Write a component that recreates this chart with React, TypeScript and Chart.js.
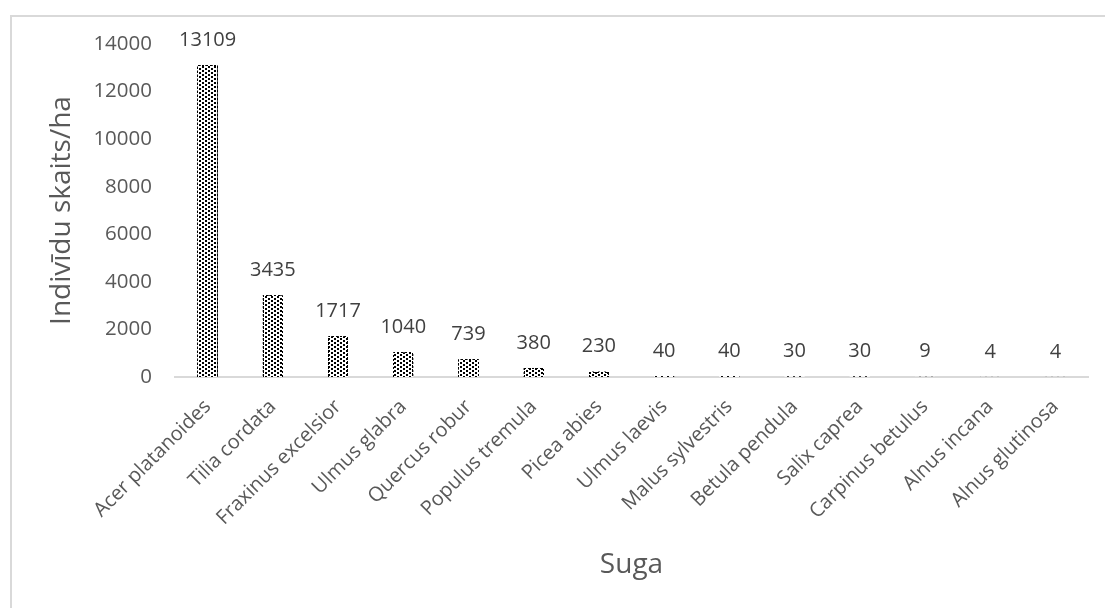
import React, { useEffect, useRef } from "react";
import { Chart, registerables } from "chart.js";

Chart.register(...registerables);

const categories = [
  "Acer platanoides",
  "Tilia cordata",
  "Fraxinus excelsior",
  "Ulmus glabra",
  "Quercus robur",
  "Populus tremula",
  "Picea abies",
  "Ulmus laevis",
  "Malus sylvestris",
  "Betula pendula",
  "Salix caprea",
  "Carpinus betulus",
  "Alnus incana",
  "Alnus glutinosa",
];
const values = [13109, 3435, 1717, 1040, 739, 380, 230, 40, 40, 30, 30, 9, 4, 4];
const yMin = 0;
const yMax = 14000;
const yStep = 2000;
const xTitle = "Suga";
const yTitle = "Indivīdu skaits/ha";

const FONT = "'Open Sans', 'Noto Sans', sans-serif";

function makePattern(): CanvasPattern | string {
  const c = document.createElement("canvas");
  c.width = 6;
  c.height = 4;
  const g = c.getContext("2d");
  if (!g) return "#000";
  g.fillStyle = "#ffffff";
  g.fillRect(0, 0, 6, 4);
  g.fillStyle = "#000000";
  g.fillRect(1, 0, 2, 2);
  g.fillRect(4, 2, 2, 2);
  const p = g.createPattern(c, "repeat");
  return p || "#000";
}

const barEdgePlugin = {
  id: "barDottedEdges",
  afterDatasetsDraw(chart: any) {
    const ctx = chart.ctx;
    const meta = chart.getDatasetMeta(0);
    ctx.save();
    ctx.strokeStyle = "#000000";
    ctx.lineWidth = 1;
    ctx.setLineDash([2, 2]);
    meta.data.forEach((el: any) => {
      const half = el.width / 2;
      const l = Math.round(el.x - half) + 0.5;
      const r = Math.round(el.x + half) - 0.5;
      const t = Math.round(el.y) + 0.5;
      const b = Math.round(el.base);
      if (b - t < 2) return;
      ctx.beginPath();
      ctx.moveTo(l, b);
      ctx.lineTo(l, t);
      ctx.lineTo(r, t);
      ctx.lineTo(r, b);
      ctx.stroke();
    });
    ctx.restore();
  },
};

const labelPlugin = {
  id: "barValueLabels",
  afterDatasetsDraw(chart: any) {
    const ctx = chart.ctx;
    const meta = chart.getDatasetMeta(0);
    ctx.save();
    ctx.font = `20px ${FONT}`;
    ctx.fillStyle = "#404040";
    ctx.textAlign = "center";
    ctx.textBaseline = "middle";
    meta.data.forEach((el: any, i: number) => {
      ctx.fillText(String(values[i]), el.x, el.y - 25);
    });
    ctx.restore();
  },
};

export default function App() {
  const ref = useRef<HTMLCanvasElement | null>(null);

  useEffect(() => {
    if (!ref.current) return;
    const chart = new Chart(ref.current, {
      type: "bar",
      data: {
        labels: categories,
        datasets: [
          {
            data: values,
            backgroundColor: makePattern() as any,
            borderWidth: 0,
            categoryPercentage: 1,
            barPercentage: 0.31,
          },
        ],
      },
      options: {
        animation: false,
        responsive: false,
        devicePixelRatio: 1,
        layout: { padding: { top: 44, right: 17, left: 0, bottom: 0 } },
        plugins: {
          legend: { display: false },
          tooltip: { enabled: false },
        },
        scales: {
          x: {
            offset: true,
            grid: { display: false, drawTicks: false },
            border: { display: true, color: "#d9d9d9", width: 2 },
            ticks: {
              autoSkip: false,
              minRotation: 45,
              maxRotation: 45,
              padding: 18,
              color: "#595959",
              font: { family: FONT, size: 20 },
            },
            title: {
              display: true,
              text: xTitle,
              color: "#595959",
              font: { family: FONT, size: 28 },
              padding: { top: 0, bottom: 26 },
            },
            afterFit: (s: any) => {
              s.height = 231;
            },
          },
          y: {
            min: yMin,
            max: yMax,
            grid: { display: false, drawTicks: false },
            border: { display: false },
            ticks: {
              stepSize: yStep,
              padding: 23,
              color: "#595959",
              font: { family: FONT, size: 20.5 },
              callback: (v: any) => String(v),
            },
            title: {
              display: true,
              text: yTitle,
              color: "#595959",
              font: { family: FONT, size: 28 },
              padding: { top: 45, bottom: 0 },
            },
            afterFit: (s: any) => {
              s.width = 175;
            },
          },
        },
      },
      plugins: [barEdgePlugin, labelPlugin],
    });
    return () => chart.destroy();
  }, []);

  return (
    <div
      style={{
        position: "fixed",
        left: 0,
        top: 0,
        width: 1105,
        height: 608,
        background: "#ffffff",
        overflow: "hidden",
      }}
    >
      <div
        style={{
          position: "absolute",
          left: 10,
          top: 15,
          width: 1110,
          height: 620,
          border: "2px solid #d9d9d9",
          boxSizing: "border-box",
        }}
      />
      <canvas
        ref={ref}
        width={1105}
        height={608}
        style={{ position: "absolute", left: 0, top: 0, width: 1105, height: 608 }}
      />
    </div>
  );
}
